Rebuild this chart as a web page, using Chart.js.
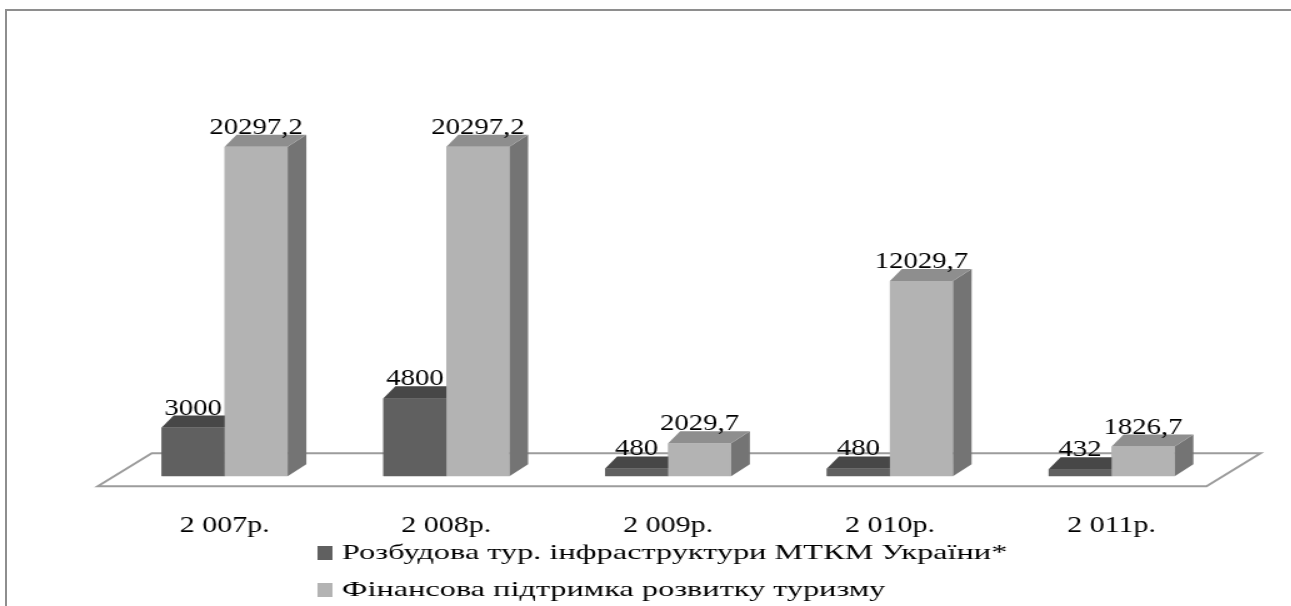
<!DOCTYPE html>
<html>
<head>
<meta charset="utf-8">
<script src="https://cdn.jsdelivr.net/npm/chart.js@4.4.1/dist/chart.umd.min.js"></script>
<style>
  html, body { margin: 0; padding: 0; background: #fff; overflow: hidden; }
  #frame {
    position: absolute; left: 5px; top: 9px; width: 1400px; height: 700px;
    border-top: 2px solid #8e8e8e; border-left: 2px solid #8e8e8e;
  }
  /* the source picture is stretched sideways, so the chart is too */
  #chart { position: absolute; left: 0; top: 0; transform: scaleX(1.25); transform-origin: 0 0; }
</style>
</head>
<body>
<div id="frame"></div>
<canvas id="chart" width="1033" height="606"></canvas>
<script>
// data
const years = ["2 007р.", "2 008р.", "2 009р.", "2 010р.", "2 011р."];
const infraValues = [3000, 4800, 480, 480, 432];
const supportValues = [20297.2, 20297.2, 2029.7, 12029.7, 1826.7];
const seriesNames = [
  "Розбудова тур. інфраструктури МТКМ України*",
  "Фінансова підтримка розвитку туризму",
];

const SERIF = "'Liberation Serif', 'Times New Roman', serif";

// colours: front, top, side
const shades = [
  { front: "#606060", top: "#474747", side: "#3e3e3e" },
  { front: "#b3b3b3", top: "#8e8e8e", side: "#747474" },
];

function fmt(v) {
  return String(v).replace(".", ",");
}

// floor under the bars
const floorPlugin = {
  id: "floor",
  beforeDatasetsDraw(chart) {
    const { ctx, chartArea } = chart;
    const base = chart.scales.y.getPixelForValue(0);
    ctx.save();
    ctx.beginPath();
    ctx.moveTo(chartArea.left - 12.8, base + 10);
    ctx.lineTo(chartArea.left + 30.4, base - 23);
    ctx.lineTo(chartArea.right + 30.4, base - 23);
    ctx.lineTo(chartArea.right - 12.8, base + 10);
    ctx.closePath();
    ctx.fillStyle = "#fff";
    ctx.fill();
    ctx.strokeStyle = "#9c9c9c";
    ctx.lineWidth = 2;
    ctx.stroke();
    ctx.restore();
  },
};

// fake 3d: side + top faces, then front again so the next bar covers them
const boxPlugin = {
  id: "box3d",
  afterDatasetsDraw(chart) {
    const ctx = chart.ctx;
    const dxL = 9.6, dxR = 15, dy = -12;
    chart.data.datasets.forEach((ds, i) => {
      const c = shades[i];
      chart.getDatasetMeta(i).data.forEach((el) => {
        const l = el.x - el.width / 2, r = el.x + el.width / 2;
        const t = el.y, b = el.base;
        ctx.save();
        ctx.fillStyle = c.side;
        ctx.beginPath();
        ctx.moveTo(r, t); ctx.lineTo(r + dxR, t + dy);
        ctx.lineTo(r + dxR, b + dy); ctx.lineTo(r, b);
        ctx.closePath(); ctx.fill();
        ctx.fillStyle = c.top;
        ctx.beginPath();
        ctx.moveTo(l, t); ctx.lineTo(l + dxL, t + dy);
        ctx.lineTo(r + dxR, t + dy); ctx.lineTo(r, t);
        ctx.closePath(); ctx.fill();
        ctx.fillStyle = c.front;
        ctx.fillRect(l, t, r - l, b - t);
        ctx.restore();
      });
    });
    // value labels
    ctx.save();
    ctx.font = "23px " + SERIF;
    ctx.fillStyle = "#000";
    ctx.textAlign = "center";
    ctx.textBaseline = "alphabetic";
    chart.data.datasets.forEach((ds, i) => {
      chart.getDatasetMeta(i).data.forEach((el, j) => {
        ctx.fillText(fmt(ds.data[j]), el.x, el.y - 13);
      });
    });
    ctx.restore();
  },
};

// legend stacked on two lines, left aligned, text a bit wider like the source
const legendPlugin = {
  id: "stackLegend",
  afterDraw(chart) {
    const ctx = chart.ctx;
    chart.data.datasets.forEach((ds, i) => {
      const y = 553 + i * 37;
      ctx.save();
      ctx.fillStyle = ds.backgroundColor;
      ctx.fillRect(254, y - 7, 12, 14);
      ctx.translate(273.6, y);
      ctx.scale(1.175, 1);
      ctx.font = "22px " + SERIF;
      ctx.textBaseline = "middle";
      ctx.textAlign = "left";
      ctx.fillStyle = "#000";
      ctx.fillText(ds.label, 0, 0);
      ctx.restore();
    });
  },
};

new Chart(document.getElementById("chart"), {
  type: "bar",
  data: {
    labels: years,
    datasets: [
      { label: seriesNames[0], data: infraValues, backgroundColor: shades[0].front },
      { label: seriesNames[1], data: supportValues, backgroundColor: shades[1].front },
    ],
  },
  options: {
    responsive: false,
    animation: false,
    devicePixelRatio: 1,
    layout: { padding: { left: 91, right: 55, top: 103, bottom: 31 } },
    datasets: { bar: { barPercentage: 1, categoryPercentage: 0.568, borderWidth: 0 } },
    plugins: { legend: { display: false }, tooltip: { enabled: false } },
    scales: {
      x: {
        grid: { display: false, drawTicks: false },
        border: { display: false },
        ticks: { padding: 35, color: "#000", font: { family: SERIF, size: 24 } },
      },
      y: { display: false, min: 0, max: 23000 },
    },
  },
  plugins: [floorPlugin, boxPlugin, legendPlugin],
});
</script>
</body>
</html>
